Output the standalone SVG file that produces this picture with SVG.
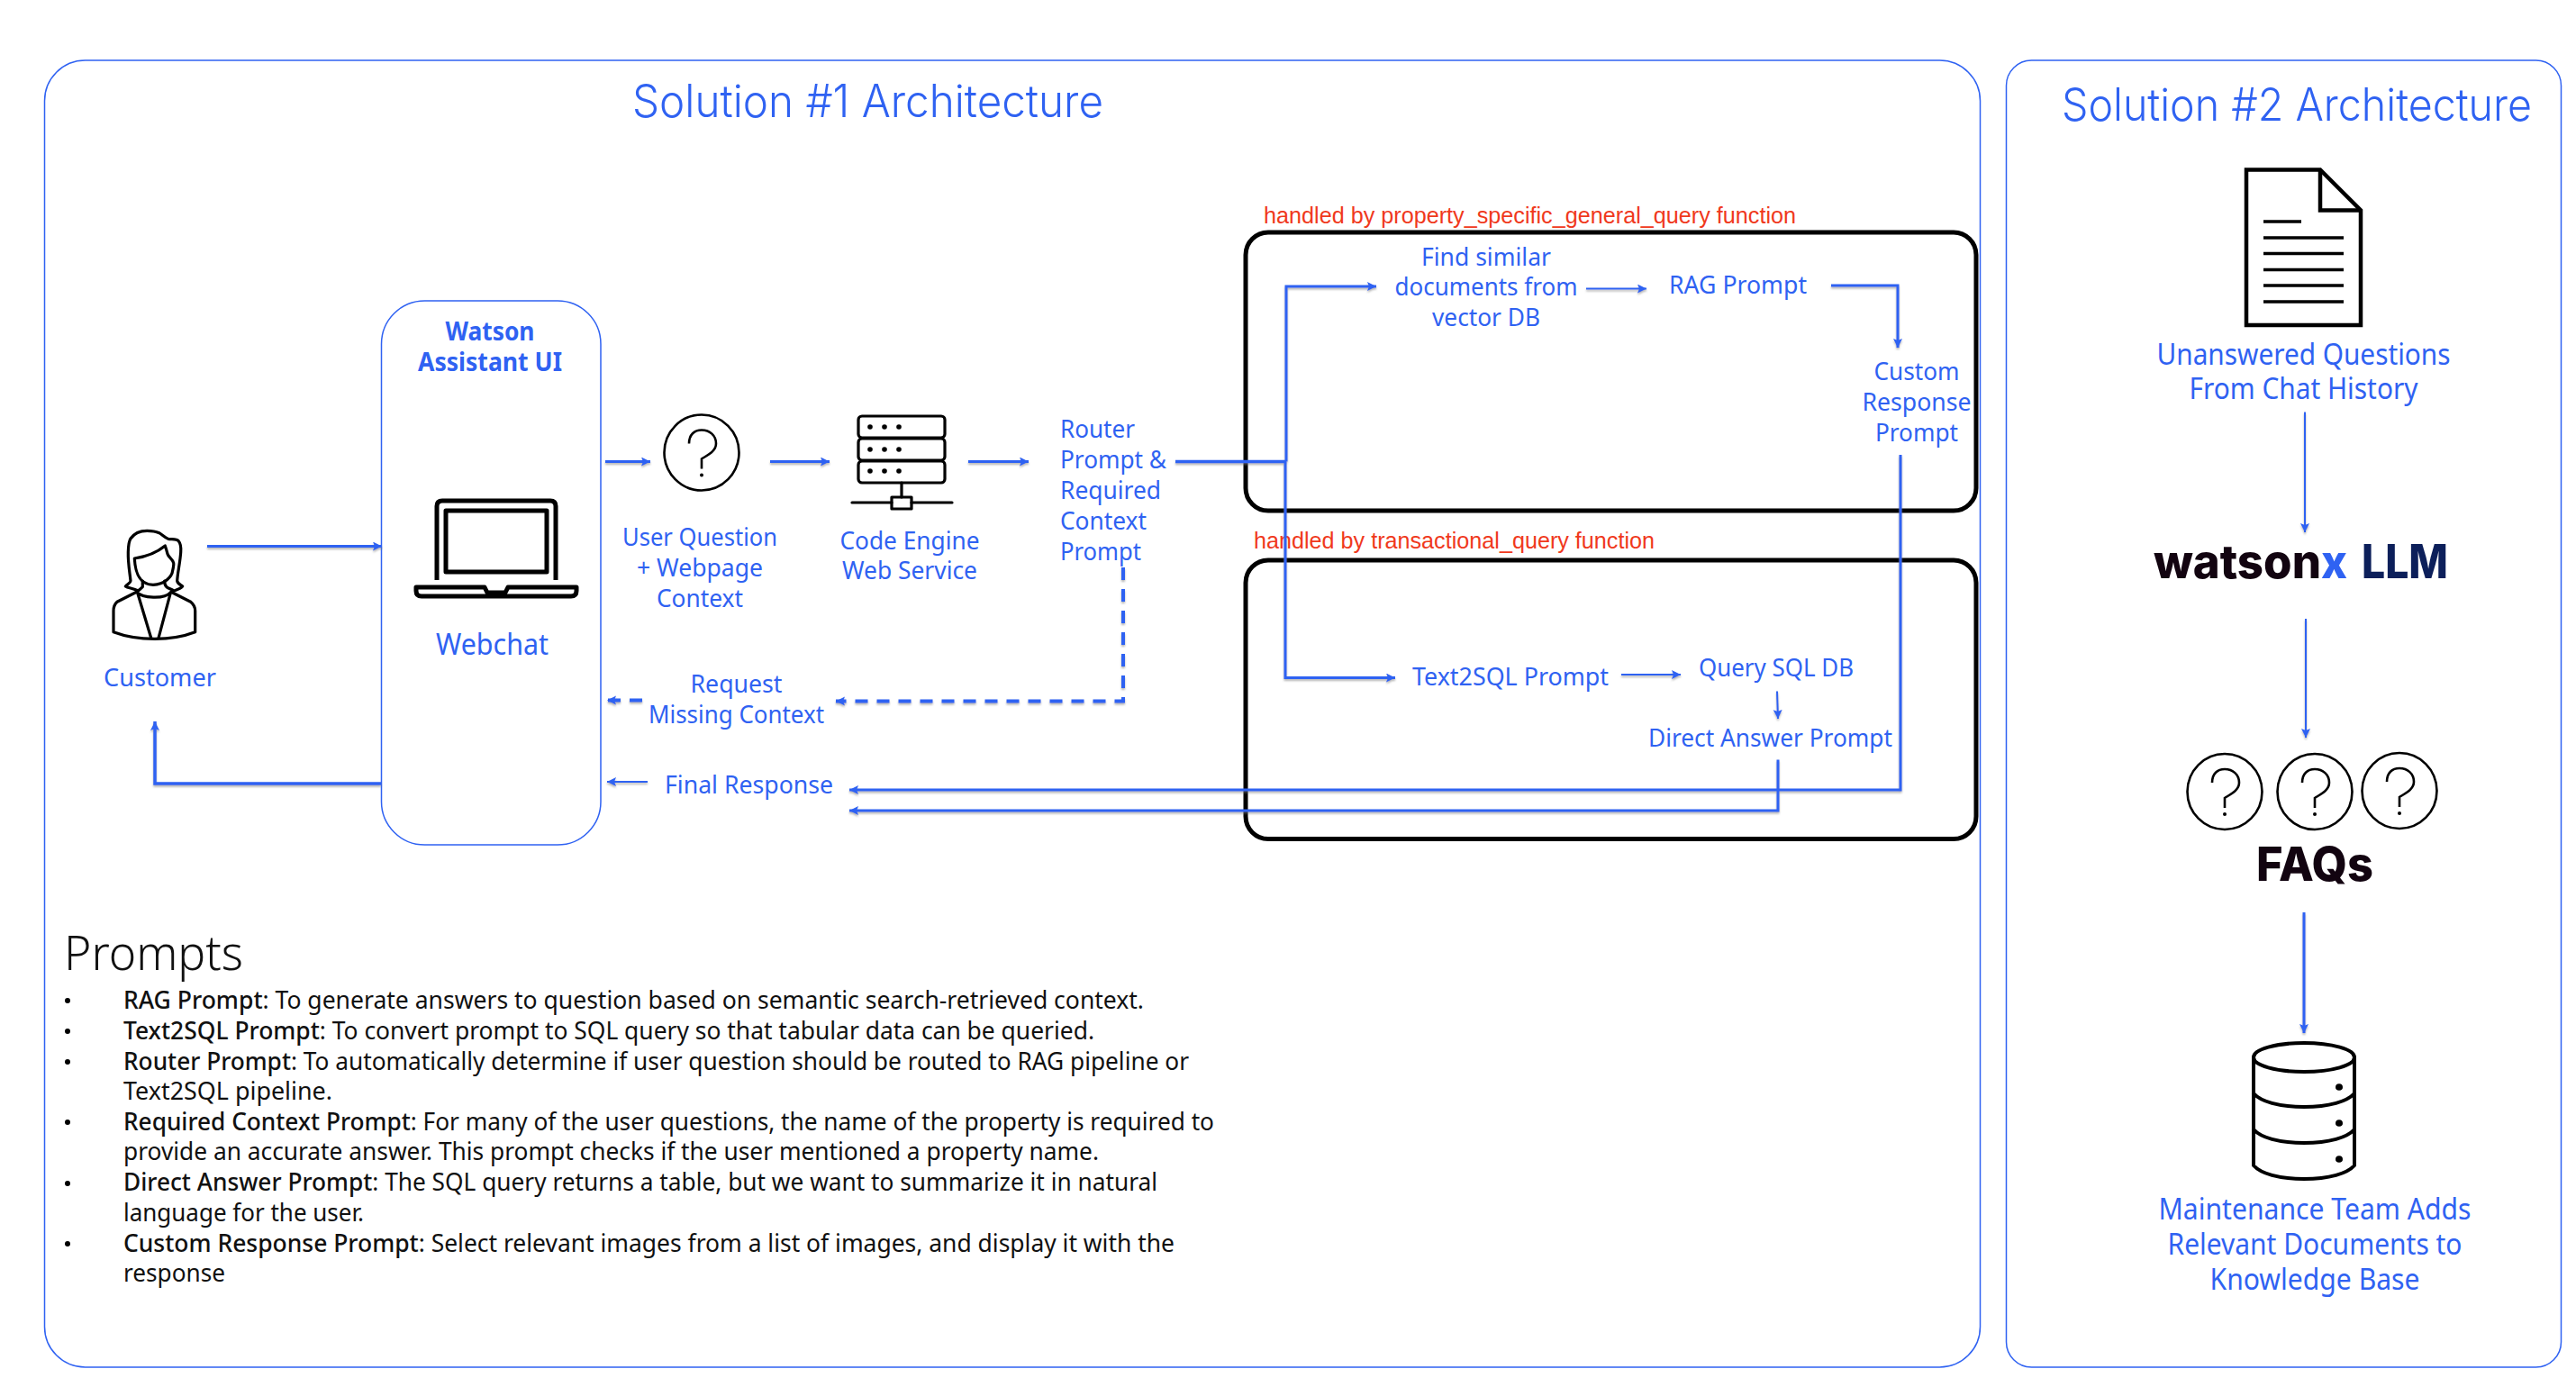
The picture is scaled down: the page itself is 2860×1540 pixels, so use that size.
<svg xmlns="http://www.w3.org/2000/svg" xmlns:xlink="http://www.w3.org/1999/xlink" width="2860" height="1540" viewBox="0 0 2860 1540">
<style>
text{font-family:"Noto Sans","Liberation Sans",sans-serif;fill:#2f62f2;font-size:28px}
.c{text-anchor:middle}
.title{font-family:Inter,"Noto Sans",sans-serif;font-size:50px;font-weight:300}
.red{font-family:"Liberation Sans",Arial,sans-serif;fill:#f0391c;font-size:25px}
.b{fill:#111;font-size:27px;font-weight:400}
.b tspan.k{font-weight:500}
.heavy{font-family:Inter,"Noto Sans",sans-serif;font-weight:800;fill:#120410;font-size:52px}
.panel{fill:none;stroke:#2f62f2;stroke-width:1.5}
.fn{fill:none;stroke:#000;stroke-width:5}
.ic{fill:none;stroke:#000;stroke-width:3.2;stroke-linejoin:round;stroke-linecap:round}
.icb{fill:none;stroke:#000;stroke-width:5;stroke-linejoin:round}
.k1{fill:#000}
#connectors{filter:url(#sh)}
#connectors path{fill:none;stroke:#2f62f2;stroke-width:3;marker-end:url(#ah)}
#connectors path.t{stroke-width:2}
#connectors path.h{stroke-width:3.5}
#connectors path.d{stroke-width:4;stroke-dasharray:14 10}
#connectors path.n{marker-end:none}
</style>
<defs>
<filter id="sh" filterUnits="userSpaceOnUse" x="0" y="0" width="2860" height="1540"><feDropShadow dx="0" dy="2" stdDeviation="1.2" flood-color="#777" flood-opacity="0.55"/></filter>
<marker id="ah" markerUnits="userSpaceOnUse" markerWidth="12" markerHeight="12" refX="10" refY="5" orient="auto"><path d="M0,0L10,5L0,10L2,5Z" fill="#2f62f2"/></marker>
<g id="q"><ellipse cx="0" cy="0" rx="41.5" ry="42" fill="#fff" stroke="#000" stroke-width="2.6"/><path d="M-14,-10C-14,-20 -8,-25 0,-25C9,-25 16,-19 16,-10C16,-2 8,2 0,7V18" fill="none" stroke="#000" stroke-width="2.6"/><circle cx="0" cy="25" r="2" fill="#000"/></g>
</defs>
<rect width="2860" height="1540" fill="#fff"/>

<g id="panel-1"><rect class="panel" x="49.5" y="67" width="2149" height="1451" rx="45"/><text class="title" x="702" y="130" textLength="523" lengthAdjust="spacingAndGlyphs">Solution #1 Architecture</text></g>
<g id="panel-2"><rect class="panel" x="2227.500" y="67" width="616" height="1451" rx="28"/><text class="title" x="2289" y="134" textLength="522" lengthAdjust="spacingAndGlyphs">Solution #2 Architecture</text></g>

<g id="box-rag"><rect class="fn" x="1383" y="258" width="811" height="309" rx="25"/><text class="red" x="1403" y="248" textLength="591" lengthAdjust="spacingAndGlyphs">handled by property_specific_general_query function</text></g>
<g id="box-sql"><rect class="fn" x="1383" y="622" width="811" height="309.500" rx="25"/><text class="red" x="1392" y="609" textLength="445" lengthAdjust="spacingAndGlyphs">handled by transactional_query function</text></g>

<g id="customer">
<path class="ic" d="M153.300,656C148,653 142,653 139.300,651C142,648 145,647 145,645C144,635 142,625 142.300,613C142.500,605 143,601 145,598C149,592 156,589.300 163.300,589.300C169,589.300 173,590 176.700,591.700C180,593.500 183,597 186.700,598.300C191,599 196,598 198.300,600.700C201,604 201,609 200.700,613C200,625 197,636 196.700,645C197,648 200,649 202.700,651C200,654 196,655 193.300,656C190,654 186,653 185,651.700C183,650 182.700,648 182.700,645M158.300,645C158.300,648 158.300,650 158.300,651.700C157,653 155,655 153.300,656"/>
<path class="ic" d="M149.300,620C150,633 153,649 170,649.300C183,649 191,640 191.700,633.300C192.500,630 193,627 192.700,625C192,621 187,619 186,615C185,611 184,608 183.300,606C176,612 163,618 149.300,620Z"/>
<path class="ic" d="M151.700,657.300L130,668.300C127,671 126,675 126,678.300V701.700C140,707 155,709.300 171.700,709.300C188,709.300 203,707 216.700,701.700V678.300C216.700,675 215,671 211.700,668.300L190,657.300"/>
<path class="ic" d="M151.700,657.300C158,664 182,666 190,657.300M152.700,658.300L167.700,708.300M189.300,658.300L176,708.300"/>
<text class="c" x="177.500" y="761.500" textLength="125" lengthAdjust="spacingAndGlyphs">Customer</text>
</g>

<g id="watson-assistant">
<rect class="panel" x="423.500" y="334" width="243.500" height="604" rx="48"/>
<text class="c" x="544" y="378" style="font-weight:700" textLength="99" lengthAdjust="spacingAndGlyphs">Watson</text>
<text class="c" x="544" y="412" style="font-weight:700" textLength="160" lengthAdjust="spacingAndGlyphs">Assistant UI</text>
<path class="icb" d="M485,644V562Q485,556 491,556H611Q617,556 617,562V644"/>
<rect class="icb" x="495" y="567" width="112" height="68"/>
<path class="icb" d="M462,652H538L541,658H561L564,652H640V656Q640,662 634,662H468Q462,662 462,656Z"/>
<text class="c" x="546.500" y="727" style="font-size:33px" textLength="125" lengthAdjust="spacingAndGlyphs">Webchat</text>
</g>

<g id="user-question"><use xlink:href="#q" href="#q" x="779" y="502.500"/>
<text class="c" x="777" y="605.500" textLength="172" lengthAdjust="spacingAndGlyphs">User Question</text><text class="c" x="777" y="639.500" textLength="140" lengthAdjust="spacingAndGlyphs">+ Webpage</text><text class="c" x="777" y="674" textLength="96" lengthAdjust="spacingAndGlyphs">Context</text></g>

<g id="code-engine">
<rect class="ic" x="953" y="462" width="96" height="24" rx="4"/><rect class="ic" x="953" y="487" width="96" height="24" rx="4"/><rect class="ic" x="953" y="512" width="96" height="24" rx="4"/>
<g class="k1"><circle cx="966" cy="474" r="2.800"/><circle cx="982" cy="474" r="2.800"/><circle cx="998" cy="474" r="2.800"/><circle cx="966" cy="499" r="2.800"/><circle cx="982" cy="499" r="2.800"/><circle cx="998" cy="499" r="2.800"/><circle cx="966" cy="523" r="2.800"/><circle cx="982" cy="523" r="2.800"/><circle cx="998" cy="523" r="2.800"/></g>
<path class="ic" d="M1001,536V552M946,558H990M1012,558H1057"/><rect class="ic" x="990" y="552" width="22" height="13"/>
<text class="c" x="1010" y="609.500" textLength="155" lengthAdjust="spacingAndGlyphs">Code Engine</text><text class="c" x="1010" y="642.500" textLength="150" lengthAdjust="spacingAndGlyphs">Web Service</text></g>

<g id="router"><text x="1177" y="485.500" textLength="83" lengthAdjust="spacingAndGlyphs">Router</text><text x="1177" y="520" textLength="118" lengthAdjust="spacingAndGlyphs">Prompt &amp;</text><text x="1177" y="554" textLength="112" lengthAdjust="spacingAndGlyphs">Required</text><text x="1177" y="588" textLength="96" lengthAdjust="spacingAndGlyphs">Context</text><text x="1177" y="622" textLength="90" lengthAdjust="spacingAndGlyphs">Prompt</text></g>

<g id="find-similar"><text class="c" x="1650" y="294.500" textLength="144" lengthAdjust="spacingAndGlyphs">Find similar</text><text class="c" x="1650" y="328" textLength="203" lengthAdjust="spacingAndGlyphs">documents from</text><text class="c" x="1650" y="362" textLength="120" lengthAdjust="spacingAndGlyphs">vector DB</text></g>
<g id="rag-prompt"><text x="1853" y="325.500" textLength="153" lengthAdjust="spacingAndGlyphs">RAG Prompt</text></g>
<g id="custom-response"><text class="c" x="2128" y="422" textLength="95" lengthAdjust="spacingAndGlyphs">Custom</text><text class="c" x="2128" y="456" textLength="121" lengthAdjust="spacingAndGlyphs">Response</text><text class="c" x="2128" y="490" textLength="92" lengthAdjust="spacingAndGlyphs">Prompt</text></g>
<g id="text2sql"><text x="1568" y="761" textLength="218" lengthAdjust="spacingAndGlyphs">Text2SQL Prompt</text></g>
<g id="query-sql"><text x="1886" y="751" textLength="172" lengthAdjust="spacingAndGlyphs">Query SQL DB</text></g>
<g id="direct-answer"><text x="1830" y="829" textLength="271" lengthAdjust="spacingAndGlyphs">Direct Answer Prompt</text></g>
<g id="request-missing"><text class="c" x="817.500" y="769" textLength="102" lengthAdjust="spacingAndGlyphs">Request</text><text class="c" x="817.500" y="803" textLength="195" lengthAdjust="spacingAndGlyphs">Missing Context</text></g>
<g id="final-response"><text x="738" y="881" textLength="187" lengthAdjust="spacingAndGlyphs">Final Response</text></g>

<g id="connectors">
<path d="M230,606.500H424"/>
<path d="M672,512.500H722"/>
<path d="M855,512.500H921"/>
<path d="M1075,512.500H1142"/>
<path class="h n" d="M1305,512.500H1428"/>
<path d="M1428,512.500V318H1528"/>
<path d="M1427,512.500V752.500H1549"/>
<path class="t" d="M1761,320.500H1828"/>
<path d="M2033,317H2107V386" />
<path d="M2110,505V877H943"/>
<path d="M1974,843.500V900H943"/>
<path class="t" d="M1800,749H1866"/>
<path class="t" d="M1973,767.500L1974,798"/>
<path class="d" d="M1247,630V778.500H928"/>
<path class="d" d="M713,777.500H674"/>
<path class="t" d="M719,868H674"/>
<path class="h" d="M423,870H172V801"/>
<path class="t" d="M2559,457.500V591"/>
<path class="t" d="M2560,687V819"/>
<path d="M2558,1013V1147"/>
</g>

<g id="doc">
<path d="M2494,188.500H2576L2621,233.500V361H2494Z" fill="#fff" stroke="#000" stroke-width="4.500" stroke-linejoin="miter"/>
<path d="M2576,188.500V233.500H2621" fill="none" stroke="#000" stroke-width="4.500"/>
<path d="M2513,246H2555M2513,264H2602M2513,281.500H2602M2513,299.500H2602M2513,317H2602M2513,335H2602" stroke="#000" stroke-width="3.500" fill="none"/>
<text class="c" x="2557.500" y="405" style="font-size:33px" textLength="326" lengthAdjust="spacingAndGlyphs">Unanswered Questions</text>
<text class="c" x="2557.500" y="443" style="font-size:33px" textLength="254" lengthAdjust="spacingAndGlyphs">From Chat History</text>
</g>
<g id="watsonx"><text class="heavy" y="642"><tspan x="2391" textLength="186" lengthAdjust="spacingAndGlyphs">watson</tspan><tspan x="2577" textLength="29" lengthAdjust="spacingAndGlyphs" style="fill:#2f62f2">x</tspan> <tspan x="2622" textLength="96" lengthAdjust="spacingAndGlyphs" style="fill:#0c1f5a">LLM</tspan></text></g>
<g id="faqs"><use xlink:href="#q" href="#q" x="2470" y="879"/><use xlink:href="#q" href="#q" x="2570" y="879"/><use xlink:href="#q" href="#q" x="2664" y="878"/>
<text class="heavy c" x="2570" y="978" textLength="130" lengthAdjust="spacingAndGlyphs">FAQs</text></g>
<g id="kb">
<ellipse class="ic" cx="2558" cy="1174" rx="56" ry="16" style="stroke-width:4"/>
<path class="ic" style="stroke-width:4" d="M2502,1174V1294C2510,1303 2530,1309 2558,1309C2586,1309 2606,1303 2614,1294V1174M2502,1214C2510,1223 2530,1229 2558,1229C2586,1229 2606,1223 2614,1214M2502,1254C2510,1263 2530,1269 2558,1269C2586,1269 2606,1263 2614,1254"/>
<g class="k1"><ellipse cx="2597" cy="1207" rx="4" ry="3.800"/><ellipse cx="2597" cy="1247" rx="4" ry="3.800"/><ellipse cx="2597" cy="1287" rx="4" ry="3.800"/></g>
<text class="c" x="2570" y="1354" style="font-size:33px" textLength="347" lengthAdjust="spacingAndGlyphs">Maintenance Team Adds</text>
<text class="c" x="2570" y="1392.500" style="font-size:33px" textLength="327" lengthAdjust="spacingAndGlyphs">Relevant Documents to</text>
<text class="c" x="2570" y="1431.500" style="font-size:33px" textLength="233" lengthAdjust="spacingAndGlyphs">Knowledge Base</text>
</g>

<g id="prompts">
<text x="71" y="1077" style="fill:#111;font-size:54px;font-weight:300" textLength="199" lengthAdjust="spacingAndGlyphs">Prompts</text>
<g class="k1"><circle cx="75" cy="1111" r="3"/><circle cx="75" cy="1145" r="3"/><circle cx="75" cy="1179" r="3"/><circle cx="75" cy="1246" r="3"/><circle cx="75" cy="1314" r="3"/><circle cx="75" cy="1381" r="3"/></g>
<text class="b" x="137" y="1120" textLength="1133" lengthAdjust="spacingAndGlyphs"><tspan class="k">RAG Prompt</tspan>: To generate answers to question based on semantic search-retrieved context.</text>
<text class="b" x="137" y="1154" textLength="1078" lengthAdjust="spacingAndGlyphs"><tspan class="k">Text2SQL Prompt</tspan>: To convert prompt to SQL query so that tabular data can be queried.</text>
<text class="b" x="137" y="1188" textLength="1183" lengthAdjust="spacingAndGlyphs"><tspan class="k">Router Prompt</tspan>: To automatically determine if user question should be routed to RAG pipeline or</text>
<text class="b" x="137" y="1221" textLength="232" lengthAdjust="spacingAndGlyphs">Text2SQL pipeline.</text>
<text class="b" x="137" y="1255" textLength="1211" lengthAdjust="spacingAndGlyphs"><tspan class="k">Required Context Prompt</tspan>: For many of the user questions, the name of the property is required to</text>
<text class="b" x="137" y="1288" textLength="1083" lengthAdjust="spacingAndGlyphs">provide an accurate answer. This prompt checks if the user mentioned a property name.</text>
<text class="b" x="137" y="1322" textLength="1148" lengthAdjust="spacingAndGlyphs"><tspan class="k">Direct Answer Prompt</tspan>: The SQL query returns a table, but we want to summarize it in natural</text>
<text class="b" x="137" y="1356" textLength="267" lengthAdjust="spacingAndGlyphs">language for the user.</text>
<text class="b" x="137" y="1390" textLength="1167" lengthAdjust="spacingAndGlyphs"><tspan class="k">Custom Response Prompt</tspan>: Select relevant images from a list of images, and display it with the</text>
<text class="b" x="137" y="1423" textLength="113" lengthAdjust="spacingAndGlyphs">response</text>
</g>
</svg>
